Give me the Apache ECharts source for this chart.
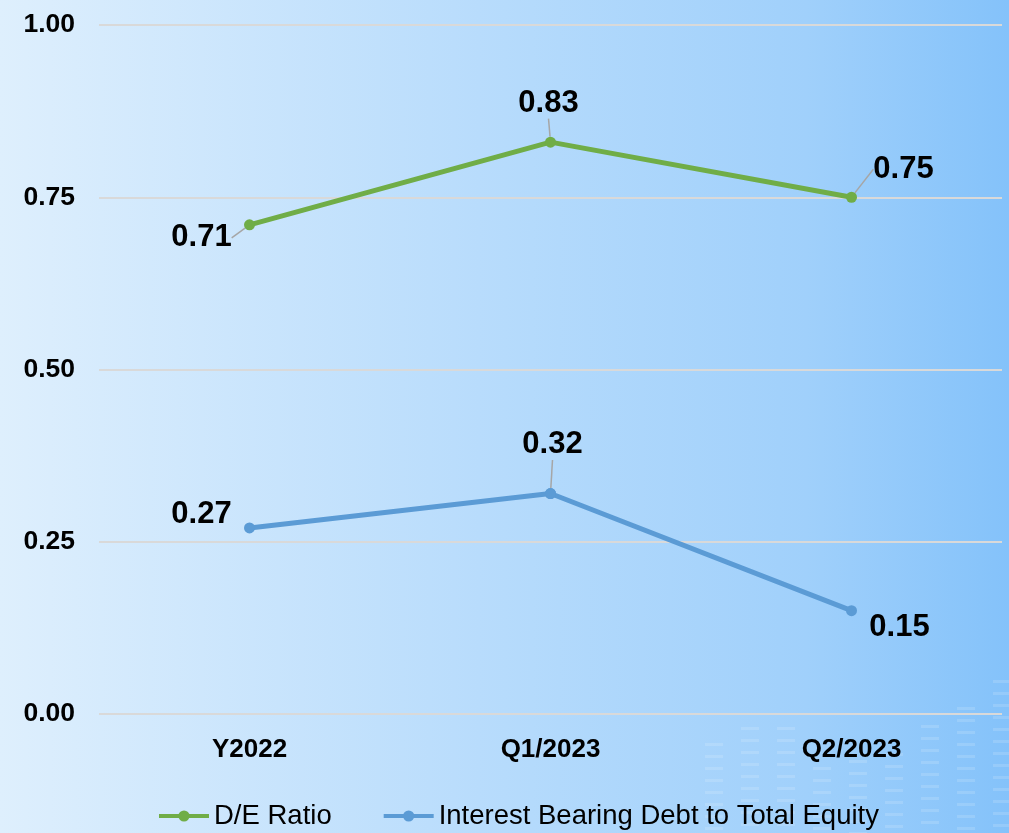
<!DOCTYPE html>
<html>
<head>
<meta charset="utf-8">
<script src="https://cdn.jsdelivr.net/npm/echarts@6/dist/echarts.min.js"></script>
<style>
  html, body { margin: 0; padding: 0; }
  #chart { width: 1009px; height: 833px; }
</style>
</head>
<body>
<div id="chart"></div>
<script>
const categories = ['Y2022', 'Q1/2023', 'Q2/2023'];
const deRatio = [0.71, 0.83, 0.75];
const ibdRatio = [0.27, 0.32, 0.15];
const yTicks = [0, 0.25, 0.5, 0.75, 1];

// where each value label sits relative to its point
const deLabelShift = [[-48, 13], [-2, -39], [52, -28]];
const ibdLabelShift = [[-48, -14], [2, -49], [48, 17]];
const ibdLeader = [false, true, false];

const chart = echarts.init(document.getElementById('chart'));

// faint striped backdrop in the lower right corner (decoration only)
const stripeTops = [743, 727, 727, 767, 760, 753, 725, 707, 680];
const stripes = [];
stripeTops.forEach((top, c) => {
  for (let y = top; y < 833; y += 12) {
    stripes.push({
      type: 'rect', silent: true, z: -1,
      shape: { x: 705 + c * 36, y: y, width: 18, height: 3 },
      style: { fill: 'rgba(255,255,255,0.14)' }
    });
  }
});

const labelStyle = {
  show: true, position: 'inside', fontSize: 31, fontWeight: 'bold', color: '#000',
  formatter: p => p.value.toFixed(2)
};
const leaderStyle = { show: true, lineStyle: { color: '#a6a6a6', width: 1.5 } };
const shiftBy = shifts => p => ({ dx: shifts[p.dataIndex][0], dy: shifts[p.dataIndex][1] });

chart.setOption({
  backgroundColor: {
    type: 'linear', x: 0, y: 0, x2: 1, y2: 0,
    colorStops: [
      { offset: 0, color: '#deeffd' },
      { offset: 0.5, color: '#b6dbfc' },
      { offset: 0.8, color: '#a0d0fb' },
      { offset: 1, color: '#84c2fa' }
    ]
  },
  textStyle: { fontFamily: 'Liberation Sans, Arial, sans-serif' },
  graphic: stripes,
  grid: { left: 99, right: 7, top: 25, bottom: 119 },
  legend: {
    left: 152, top: 797,
    itemWidth: 50, itemHeight: 14, itemGap: 50,
    lineStyle: { width: 4 },
    textStyle: { fontSize: 27.5, color: '#000' },
    data: ['D/E Ratio', 'Interest Bearing Debt to Total Equity']
  },
  xAxis: {
    type: 'category',
    data: categories,
    axisLine: { show: false },
    axisTick: { show: false },
    axisLabel: { fontSize: 26, fontWeight: 'bold', color: '#000', margin: 23 }
  },
  yAxis: {
    type: 'value',
    min: yTicks[0], max: yTicks[yTicks.length - 1], interval: 0.25,
    axisLabel: {
      fontSize: 26.5, fontWeight: 'bold', color: '#000', margin: 24,
      formatter: v => v.toFixed(2)
    },
    splitLine: { lineStyle: { color: '#d9d9d9', width: 2 } }
  },
  series: [
    {
      name: 'D/E Ratio', type: 'line',
      data: deRatio,
      color: '#70ad47',
      lineStyle: { width: 5 },
      symbol: 'circle', symbolSize: 11,
      label: labelStyle,
      labelLine: leaderStyle,
      labelLayout: shiftBy(deLabelShift)
    },
    {
      name: 'Interest Bearing Debt to Total Equity', type: 'line',
      data: ibdRatio.map((v, i) => ({ value: v, label: { show: !ibdLeader[i] } })),
      color: '#5b9bd5',
      lineStyle: { width: 5 },
      symbol: 'circle', symbolSize: 11,
      label: labelStyle,
      labelLayout: shiftBy(ibdLabelShift)
    },
    {
      // same points again, only to carry the labels that have a leader line
      name: 'ibd-leader', type: 'line',
      data: ibdRatio.map((v, i) => (ibdLeader[i] ? v : '-')),
      color: '#5b9bd5',
      lineStyle: { width: 0, opacity: 0 },
      symbol: 'circle', symbolSize: 11,
      label: labelStyle,
      labelLine: leaderStyle,
      labelLayout: shiftBy(ibdLabelShift)
    }
  ]
});
</script>
</body>
</html>
